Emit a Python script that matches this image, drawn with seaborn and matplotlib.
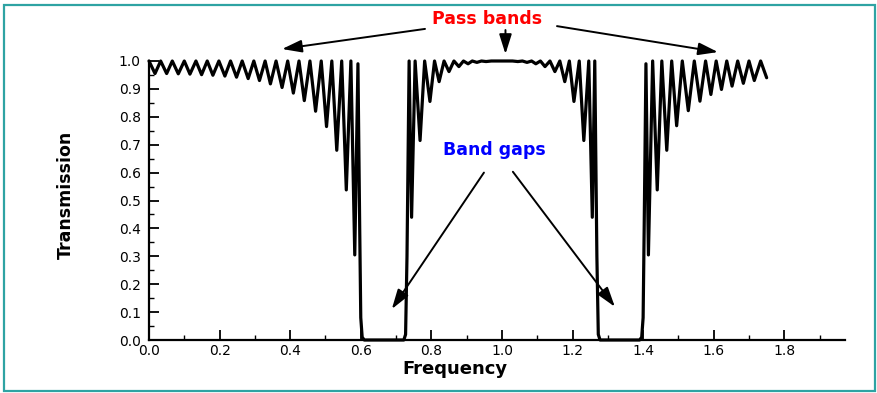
import numpy as np
import pandas as pd
import matplotlib
matplotlib.use("Agg")
import matplotlib.pyplot as plt
from matplotlib.ticker import MultipleLocator, FormatStrFormatter
from matplotlib.patches import Rectangle
import seaborn as sns

# ---- data (extrema of the transmission curve) ----
band1_freq = [0.000, 0.017, 0.033, 0.050, 0.066, 0.083, 0.100, 0.116, 0.133, 0.149,
              0.165, 0.181, 0.198, 0.215, 0.231, 0.248, 0.264, 0.281, 0.297, 0.313,
              0.329, 0.344, 0.360, 0.377, 0.393, 0.409, 0.425, 0.440, 0.456, 0.472,
              0.488, 0.503, 0.518, 0.532, 0.546, 0.559, 0.572, 0.583, 0.592, 0.597,
              0.600, 0.604, 0.610]
band1_trans = [1.000, 0.955, 1.000, 0.955, 1.000, 0.954, 1.000, 0.953, 1.000, 0.951,
               1.000, 0.949, 1.000, 0.946, 1.000, 0.942, 1.000, 0.937, 1.000, 0.930,
               1.000, 0.918, 1.000, 0.905, 1.000, 0.885, 1.000, 0.858, 1.000, 0.820,
               1.000, 0.765, 1.000, 0.680, 1.000, 0.538, 1.000, 0.305, 0.990, 0.400,
               0.080, 0.010, 0.000]

band2_freq = [0.722, 0.727, 0.731, 0.737, 0.744, 0.754, 0.768, 0.781, 0.796, 0.809,
              0.822, 0.836, 0.850, 0.864, 0.878, 0.891, 0.904, 0.916, 0.929, 0.942,
              0.955, 0.970, 1.030, 1.045, 1.058, 1.071, 1.084, 1.096, 1.109, 1.122,
              1.136, 1.150, 1.164, 1.178, 1.191, 1.204, 1.219, 1.232, 1.246, 1.256,
              1.263, 1.269, 1.273, 1.278]
band2_trans = [0.000, 0.020, 0.300, 1.000, 0.440, 1.000, 0.715, 1.000, 0.855, 1.000,
               0.926, 1.000, 0.962, 1.000, 0.980, 1.000, 0.990, 1.000, 0.995, 1.000,
               0.998, 1.000, 1.000, 0.998, 1.000, 0.995, 1.000, 0.990, 1.000, 0.980,
               1.000, 0.962, 1.000, 0.926, 1.000, 0.855, 1.000, 0.715, 1.000, 0.440,
               1.000, 0.300, 0.020, 0.000]

band3_freq = [1.390, 1.396, 1.400, 1.403, 1.408, 1.415, 1.427, 1.440, 1.453, 1.467,
              1.481, 1.495, 1.511, 1.528, 1.545, 1.561, 1.577, 1.592, 1.607, 1.622,
              1.637, 1.652, 1.668, 1.684, 1.700, 1.715, 1.733, 1.750]
band3_trans = [0.000, 0.010, 0.080, 0.400, 0.990, 0.305, 1.000, 0.538, 1.000, 0.680,
               1.000, 0.768, 1.000, 0.822, 1.000, 0.856, 1.000, 0.880, 1.000, 0.898,
               1.000, 0.910, 1.000, 0.920, 1.000, 0.930, 1.000, 0.940]

x_ticks = [0.0, 0.2, 0.4, 0.6, 0.8, 1.0, 1.2, 1.4, 1.6, 1.8]
y_ticks = [0.0, 0.1, 0.2, 0.3, 0.4, 0.5, 0.6, 0.7, 0.8, 0.9, 1.0]

df = pd.DataFrame({
    "Frequency": band1_freq + band2_freq + band3_freq,
    "Transmission": band1_trans + band2_trans + band3_trans,
})

sns.set_style("ticks")
plt.rcParams["font.family"] = ["DejaVu Sans"]

fig = plt.figure(figsize=(8.77, 3.93), dpi=100)
ax = fig.add_axes([149 / 877, 53 / 393, 696 / 877, 279 / 393])

sns.lineplot(data=df, x="Frequency", y="Transmission", ax=ax, sort=False,
             estimator=None, color="black", linewidth=2.3)
for ln in ax.lines:
    ln.set_solid_joinstyle("round")
    ln.set_clip_on(False)

ax.set_xlim(0, 1.972)
ax.set_ylim(0, 1.0)
ax.set_xticks(x_ticks)
ax.set_yticks(y_ticks)
ax.xaxis.set_minor_locator(MultipleLocator(0.1))
ax.yaxis.set_minor_locator(MultipleLocator(0.05))
ax.xaxis.set_major_formatter(FormatStrFormatter("%.1f"))
ax.yaxis.set_major_formatter(FormatStrFormatter("%.1f"))
ax.tick_params(which="major", direction="in", length=7, width=1.3, labelsize=10,
               color="black", labelcolor="black")
ax.tick_params(axis="x", which="major", pad=3)
ax.tick_params(axis="y", which="major", pad=6)
ax.tick_params(which="minor", direction="in", length=3.5, width=1.0, color="black")
sns.despine(ax=ax)
for s in ("left", "bottom"):
    ax.spines[s].set_linewidth(1.6)
    ax.spines[s].set_color("black")

ax.set_xlabel("Frequency", fontsize=13, fontweight="bold", va="center", ha="center",
              color="black")
ax.xaxis.set_label_coords((455 - 149) / 696, (340 - 369) / 279)
ax.set_ylabel("Transmission", fontsize=12.5, fontweight="bold", va="center", ha="center",
              color="black")
ax.yaxis.set_label_coords((66 - 149) / 696, (340 - 195) / 279)

arrow_kw = dict(arrowstyle="-|>,head_length=1.2,head_width=0.38", color="black",
                lw=1.4, mutation_scale=10, shrinkA=0, shrinkB=0)

ax.text(0.958, 1.151, "Pass bands", color="#FF0000", fontsize=12.5, fontweight="bold",
        ha="center", va="center", clip_on=False)
for tail, tip in [((0.782, 1.115), (0.377, 1.043)),
                  ((1.010, 1.111), (1.010, 1.025)),
                  ((1.156, 1.125), (1.612, 1.032))]:
    ax.annotate("", xy=tip, xytext=tail, arrowprops=arrow_kw, annotation_clip=False)

ax.text(0.979, 0.681, "Band gaps", color="#0000FF", fontsize=12.5, fontweight="bold",
        ha="center", va="center")
for tail, tip in [((0.949, 0.600), (0.688, 0.111)),
                  ((1.031, 0.603), (1.320, 0.119))]:
    ax.annotate("", xy=tip, xytext=tail, arrowprops=arrow_kw, annotation_clip=False)

fig.patches.append(Rectangle((4 / 877, 2 / 393), 871 / 877, 386 / 393,
                             transform=fig.transFigure, fill=False,
                             edgecolor="#2EA3A3", linewidth=1.6))

fig.savefig("out.png", dpi=100, facecolor="white")
